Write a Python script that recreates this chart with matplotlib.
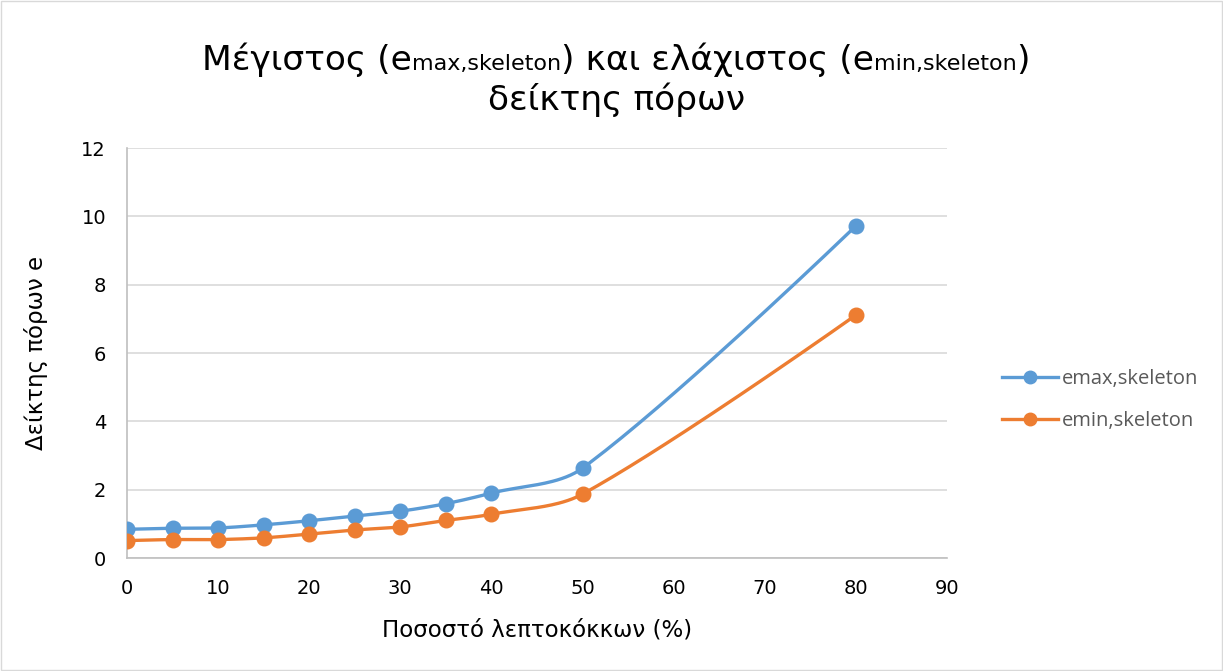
import numpy as np
import matplotlib
matplotlib.use("Agg")
import matplotlib.pyplot as plt
from matplotlib.patches import Rectangle

# δεδομένα (εκτίμηση από την εικόνα)
pososto = [0, 5, 10, 15, 20, 25, 30, 35, 40, 50, 80]
e_max = [0.84, 0.87, 0.88, 0.97, 1.09, 1.23, 1.37, 1.59, 1.90, 2.63, 9.72]
e_min = [0.51, 0.54, 0.54, 0.59, 0.70, 0.82, 0.91, 1.10, 1.28, 1.87, 7.11]
x_ticks = [0, 10, 20, 30, 40, 50, 60, 70, 80, 90]
y_ticks = [0, 2, 4, 6, 8, 10, 12]

BLUE = "#5B9BD5"
ORANGE = "#ED7D31"

fig = plt.figure(figsize=(12.23, 6.71), dpi=100)
fig.patches.append(Rectangle((0.001, 0.001), 0.998, 0.997, transform=fig.transFigure,
                             fill=False, edgecolor="#D9D9D9", linewidth=1))
pos = [0.1038, 0.1684, 0.6705, 0.611]
ax = fig.add_axes(pos)

# κλίμακα σε pixel για την ομαλή καμπύλη
KX = pos[2] * 1223 / 90
KY = pos[3] * 671 / 12


def smooth(x, y, t=0.32, n=40):
    # ομαλή καμπύλη τύπου Excel (Bezier, σημεία ελέγχου ανάλογα με τις αποστάσεις)
    P = np.column_stack([np.asarray(x, float) * KX, np.asarray(y, float) * KY])
    m = len(P)
    cin = P.copy()
    cout = P.copy()
    for i in range(1, m - 1):
        d01 = np.hypot(*(P[i] - P[i - 1]))
        d12 = np.hypot(*(P[i + 1] - P[i]))
        fa = t * d01 / (d01 + d12)
        fb = t * d12 / (d01 + d12)
        cin[i] = P[i] - fa * (P[i + 1] - P[i - 1])
        cout[i] = P[i] + fb * (P[i + 1] - P[i - 1])
    out = []
    s = np.linspace(0, 1, n)[:, None]
    for i in range(m - 1):
        seg = ((1 - s) ** 3 * P[i] + 3 * s * (1 - s) ** 2 * cout[i]
               + 3 * s ** 2 * (1 - s) * cin[i + 1] + s ** 3 * P[i + 1])
        out.append(seg)
    out = np.vstack(out)
    return out[:, 0] / KX, out[:, 1] / KY


for yv, col, lab in [(e_max, BLUE, "emax,skeleton"), (e_min, ORANGE, "emin,skeleton")]:
    sx, sy = smooth(pososto, yv)
    ax.plot(sx, sy, color=col, linewidth=2.4, zorder=3)
    ax.plot(pososto, yv, "o", color=col, markersize=10.5, zorder=4)
    ax.plot([], [], "-o", color=col, linewidth=2.4, markersize=9, label=lab)

ax.set_xlim(0, 90)
ax.set_ylim(0, 12)
ax.set_xticks(x_ticks)
ax.set_yticks(y_ticks)
ax.grid(axis="y", color="#D9D9D9", linewidth=1.2)
ax.set_axisbelow(True)
for s in ["top", "right"]:
    ax.spines[s].set_visible(False)
for s in ["left", "bottom"]:
    ax.spines[s].set_color("#BFBFBF")
    ax.spines[s].set_linewidth(1.2)
ax.tick_params(axis="y", length=0, labelsize=14, colors="black", pad=15)
ax.tick_params(axis="x", length=0, labelsize=14, colors="black", pad=15)

ax.set_xlabel("Ποσοστό λεπτοκόκκων (%)", fontsize=16.5, labelpad=15)
ax.set_ylabel("Δείκτης πόρων e", fontsize=16.5, labelpad=24)

leg = ax.legend(loc="center left", bbox_to_anchor=(1.045, 0.385), frameon=False,
                labelspacing=1.1, handlelength=2.8, handletextpad=0.15,
                prop={"family": "Open Sans", "size": 14.5})
for t in leg.get_texts():
    t.set_color("#595959")

# τίτλος με μικτά μεγέθη γραμματοσειράς
pieces = [("Μέγιστος (e", 24.8), ("max,skeleton", 16), (") και ελάχιστος (e", 24.8),
          ("min,skeleton", 16), (")", 24.8)]
fig.canvas.draw()
r = fig.canvas.get_renderer()
texts = []
total = 0
for s, fs in pieces:
    t = fig.text(0, 0, s, fontsize=fs, va="baseline", ha="left")
    w = t.get_window_extent(r).width
    texts.append((t, w))
    total += w
W = fig.bbox.width
xpos = 616 - total / 2
base = 1 - 70 / 671
for t, w in texts:
    t.set_position((xpos / W, base))
    xpos += w
fig.text(617 / W, 1 - 110 / 671, "δείκτης πόρων", fontsize=24.8, ha="center",
         va="baseline")

fig.savefig("out.png", dpi=100)
